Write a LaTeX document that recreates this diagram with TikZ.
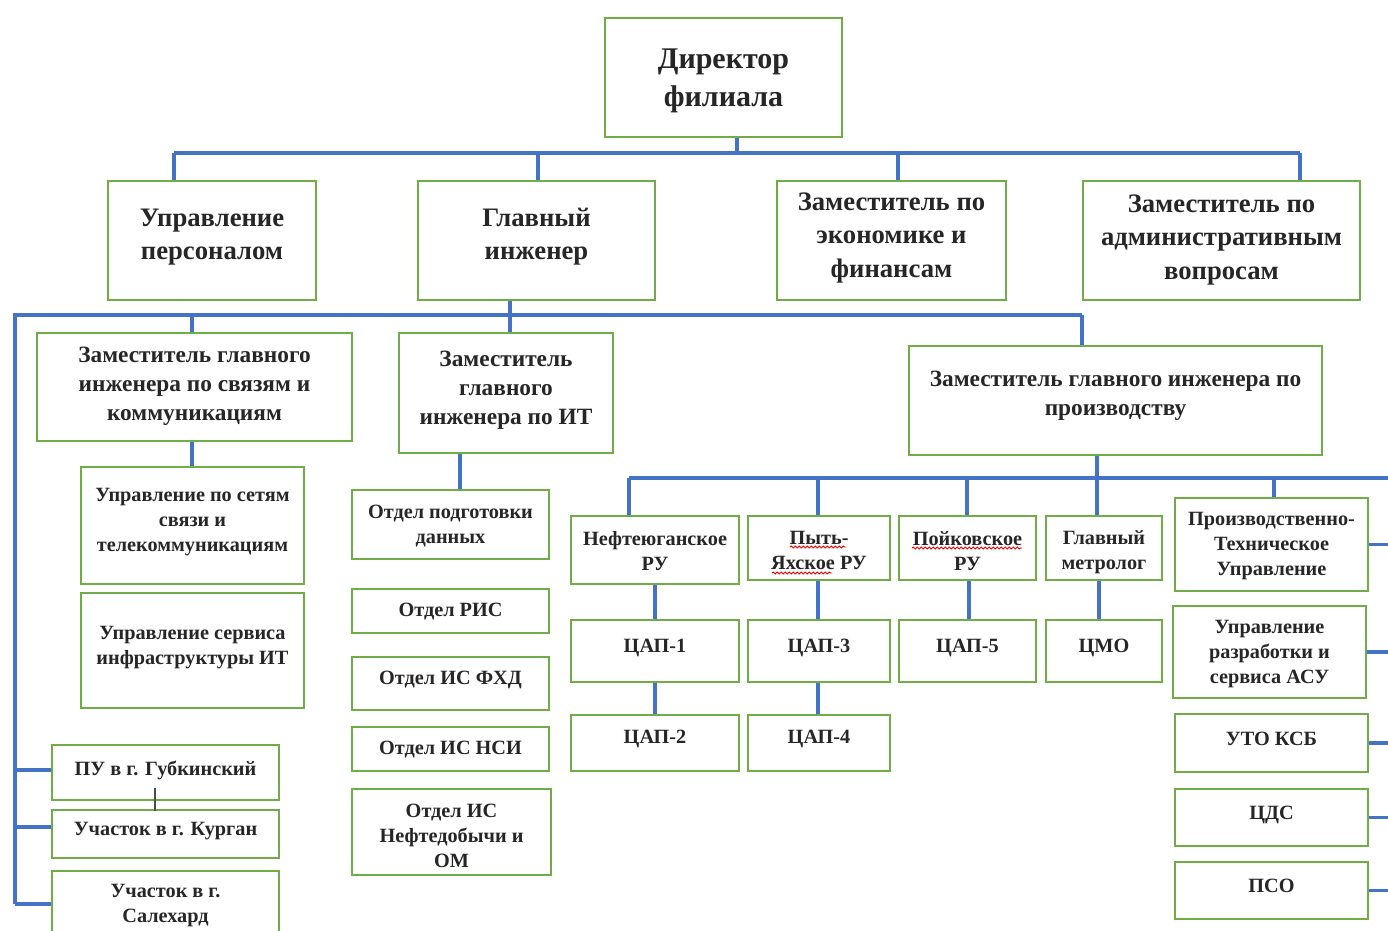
\documentclass[tikz,border=0pt]{standalone}
\usepackage{fontspec}
\setmainfont{Liberation Serif}
\usetikzlibrary{decorations.pathmorphing}
\definecolor{boxgreen}{RGB}{112,173,71}
\definecolor{lineblue}{RGB}{68,114,196}
\newcommand\fD{\fontsize{22.5}{28}\selectfont\bfseries}
\newcommand\fB{\fontsize{20}{25}\selectfont\bfseries}
\newcommand\fC{\fontsize{17.5}{21.75}\selectfont\bfseries}
\newcommand\fS{\fontsize{15.2}{18.75}\selectfont\bfseries}
% name, x1, y1, x2, y2, text y, font, text
\newcommand\bx[8]{%
  \node[box,minimum width={(#4-#2)*0.75pt},minimum height={(#5-#3)*0.75pt}] (#1) at ({(#2+#4)/2},{(#3+#5)/2}) {};
  \node[txt,font=#7] (#1t) at ({(#2+#4)/2},#6) {#8};}
\begin{document}
\begin{tikzpicture}[x=0.75pt,y=-0.75pt,
  box/.style={draw=boxgreen,line width=1.6pt,inner sep=0pt,fill=white},
  txt/.style={align=center,inner sep=0pt,text=black!85,yshift=-2.2pt},
  conn/.style={draw=lineblue,line width=2.3pt},
  tick/.style={draw=black!70,line width=1.2pt},
  squig/.style={draw=red,line width=0.7pt,decorate,decoration={snake,amplitude=0.7pt,segment length=3pt}}]
\clip (0,0) rectangle (1388,931);
\fill[white] (0,0) rectangle (1388,931);

% bus coordinates
\coordinate (j0) at (737,153);
\coordinate (t1) at (174,153);
\coordinate (t2) at (538,153);
\coordinate (t3) at (898,153);
\coordinate (t4) at (1300,153);
\coordinate (s0) at (510,315);
\coordinate (sL) at (15,315);
\coordinate (s1) at (192,315);
\coordinate (s3) at (1082,315);
\coordinate (l1) at (15,770);
\coordinate (l2) at (15,827);
\coordinate (l3) at (15,904);
\coordinate (p0) at (1097,478);
\coordinate (p1) at (629,478);
\coordinate (p2) at (818,478);
\coordinate (p3) at (967,478);
\coordinate (p5) at (1274,478);
\coordinate (pR) at (1390,478);
\coordinate (k1) at (655,0);
\coordinate (k2) at (818,0);
\coordinate (k3) at (969,0);
\coordinate (k4) at (1099,0);
\coordinate (rx) at (1390,0);
\coordinate (bk) at (155,0);

% connectors (drawn first, boxes on top)
\draw[conn] (737,137) -- (j0);
\draw[conn] (t1) -- (t4);
\draw[conn] (t1) -- (174,181);
\draw[conn] (t2) -- (538,181);
\draw[conn] (t3) -- (898,181);
\draw[conn] (t4) -- (1300,181);
\draw[conn] (s0) -- (510,300);
\draw[conn] (s3) -- (sL) -- (l3);
\draw[conn] (s1) -- (192,333);
\draw[conn] (s0) -- (510,333);
\draw[conn] (s3) -- (1082,346);
\draw[conn] (192,441) -- (192,467);
\draw[conn] (460,453) -- (460,490);
\draw[conn] (1097,455) -- (p0);
\draw[conn] (p1) -- (pR);
\draw[conn] (p1) -- (629,516);
\draw[conn] (p2) -- (818,516);
\draw[conn] (p3) -- (967,516);
\draw[conn] (p0) -- (1097,516);
\draw[conn] (p5) -- (1274,498);

% boxes
\bx{dir}{605}{18}{842}{137}{78}{\fD}{Директор\\филиала}
\bx{pers}{108}{181}{316}{300}{234}{\fB}{Управление\\персоналом}
\bx{ge}{418}{181}{655}{300}{234}{\fB}{Главный\\инженер}
\bx{eco}{777}{181}{1006}{300}{235}{\fB}{Заместитель по\\экономике и\\финансам}
\bx{adm}{1083}{181}{1360}{300}{237}{\fB}{Заместитель по\\административным\\вопросам}
\bx{zsv}{37}{333}{352}{441}{383}{\fC}{Заместитель главного\\инженера по связям и\\коммуникациям}
\bx{zit}{399}{333}{613}{453}{387}{\fC}{Заместитель\\главного\\инженера по ИТ}
\bx{zpr}{909}{346}{1322}{455}{393}{\fC}{Заместитель главного инженера по\\производству}
\bx{net}{81}{467}{304}{584}{519}{\fS}{Управление по сетям\\связи и\\телекоммуникациям}
\bx{isv}{81}{593}{304}{708}{645}{\fS}{Управление сервиса\\инфраструктуры ИТ}
\bx{pu}{52}{745}{279}{800}{767}{\fS}{ПУ в г. Губкинский}
\bx{kur}{52}{810}{279}{858}{828}{\fS}{Участок в г. Курган}
\bx{sal}{52}{871}{279}{945}{903}{\fS}{Участок в г.\\Салехард}
\bx{opd}{352}{490}{549}{559}{523}{\fS}{Отдел подготовки\\данных}
\bx{ris}{352}{589}{549}{633}{609}{\fS}{Отдел РИС}
\bx{fhd}{352}{657}{549}{710}{677}{\fS}{Отдел ИС ФХД}
\bx{nsi}{352}{727}{549}{771}{747}{\fS}{Отдел ИС НСИ}
\bx{neft}{352}{789}{551}{875}{833}{\fS}{Отдел ИС\\Нефтедобычи и\\ОМ}
\bx{nru}{571}{516}{739}{584}{548}{\fS}{Нефтеюганское\\РУ}
\bx{pru}{748}{516}{890}{580}{548}{\fS}{Пыть-\\Яхское РУ}
\bx{kru}{899}{516}{1036}{580}{548}{\fS}{Пойковское\\РУ}
\bx{met}{1046}{516}{1162}{580}{549}{\fS}{Главный\\метролог}
\bx{c1}{571}{620}{739}{682}{645}{\fS}{ЦАП-1}
\bx{c2}{571}{715}{739}{771}{736}{\fS}{ЦАП-2}
\bx{c3}{748}{620}{890}{682}{645}{\fS}{ЦАП-3}
\bx{c4}{748}{715}{890}{771}{736}{\fS}{ЦАП-4}
\bx{c5}{899}{620}{1036}{682}{645}{\fS}{ЦАП-5}
\bx{cmo}{1046}{620}{1162}{682}{645}{\fS}{ЦМО}
\bx{ptu}{1175}{498}{1368}{591}{543}{\fS}{Производственно-\\Техническое\\Управление}
\bx{asu}{1173}{606}{1366}{698}{651}{\fS}{Управление\\разработки и\\сервиса АСУ}
\bx{uto}{1175}{714}{1368}{772}{736}{\fS}{УТО КСБ}
\bx{cds}{1175}{789}{1368}{846}{812}{\fS}{ЦДС}
\bx{pso}{1175}{862}{1368}{919}{883}{\fS}{ПСО}

% connectors touching boxes on the side
\draw[conn] (l1) -- (pu.west |- l1);
\draw[conn] (l2) -- (kur.west |- l2);
\draw[conn] (l3) -- (sal.west |- l3);
\draw[conn] (nru.south -| k1) -- (c1.north -| k1);
\draw[conn] (c1.south -| k1) -- (c2.north -| k1);
\draw[conn] (pru.south -| k2) -- (c3.north -| k2);
\draw[conn] (c3.south -| k2) -- (c4.north -| k2);
\draw[conn] (kru.south -| k3) -- (c5.north -| k3);
\draw[conn] (met.south -| k4) -- (cmo.north -| k4);
\draw[conn] (ptu.east) -- (ptu.east -| rx);
\draw[conn] (asu.east) -- (asu.east -| rx);
\draw[conn] (uto.east) -- (uto.east -| rx);
\draw[conn] (cds.east) -- (cds.east -| rx);
\draw[conn] (pso.east) -- (pso.east -| rx);
\draw[tick] ([yshift=10pt]pu.south -| bk) -- ([yshift=-1.5pt]kur.north -| bk);

% spell-check underlines
\draw[squig] (790,547) -- (846,547);
\draw[squig] (772,573) -- (832,573);
\draw[squig] (912,548) -- (1022,548);
\end{tikzpicture}
\end{document}
